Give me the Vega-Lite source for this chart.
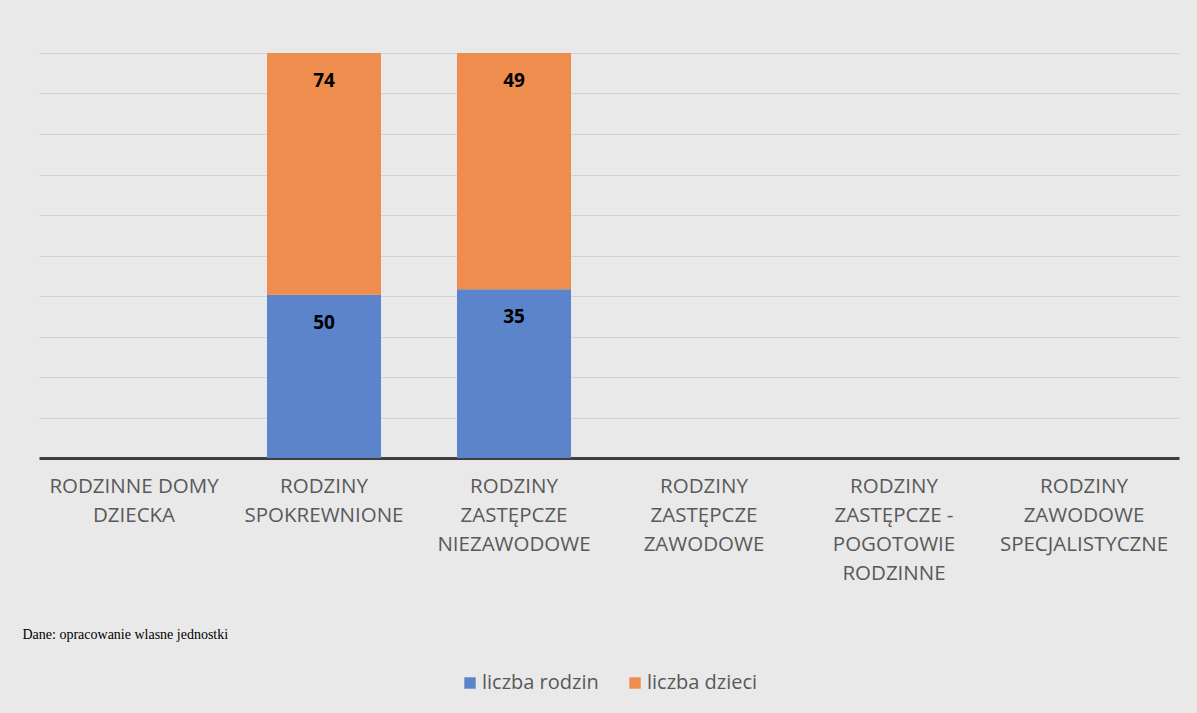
{
  "$schema": "https://vega.github.io/schema/vega-lite/v6.json",
  "width": 1140,
  "height": 405,
  "padding": {"left": 22, "top": 53, "right": 18, "bottom": 22},
  "background": "#e9e9e9",
  "data": {
    "values": [
      {"forma": "RODZINY SPOKREWNIONE", "seria": "liczba rodzin", "wartosc": 50},
      {"forma": "RODZINY SPOKREWNIONE", "seria": "liczba dzieci", "wartosc": 74},
      {"forma": "RODZINY ZASTĘPCZE NIEZAWODOWE", "seria": "liczba rodzin", "wartosc": 35},
      {"forma": "RODZINY ZASTĘPCZE NIEZAWODOWE", "seria": "liczba dzieci", "wartosc": 49}
    ]
  },
  "encoding": {
    "x": {
      "field": "forma",
      "type": "nominal",
      "sort": null,
      "scale": {
        "domain": ["RODZINNE DOMY DZIECKA", "RODZINY SPOKREWNIONE", "RODZINY ZASTĘPCZE NIEZAWODOWE", "RODZINY ZASTĘPCZE ZAWODOWE", "RODZINY ZASTĘPCZE - POGOTOWIE RODZINNE", "RODZINY ZAWODOWE SPECJALISTYCZNE"],
        "paddingInner": 0.4,
        "paddingOuter": 0.2
      },
      "axis": {
        "title": "Dane: opracowanie wlasne jednostki",
        "titleFont": "Liberation Serif",
        "titleFontSize": 14,
        "titleFontWeight": "normal",
        "titleColor": "#000000",
        "titleAnchor": "start",
        "titleAlign": "left",
        "titleBaseline": "middle",
        "titleX": -17,
        "titleY": 176,
        "labelAngle": 0,
        "labelFont": "Open Sans",
        "labelFontSize": 20.5,
        "labelColor": "#595959",
        "labelLineHeight": 29,
        "labelPadding": 18,
        "labelBaseline": "top",
        "labelExpr": "datum.value == 'RODZINNE DOMY DZIECKA' ? ['RODZINNE DOMY', 'DZIECKA'] : datum.value == 'RODZINY SPOKREWNIONE' ? ['RODZINY', 'SPOKREWNIONE'] : datum.value == 'RODZINY ZASTĘPCZE NIEZAWODOWE' ? ['RODZINY', 'ZASTĘPCZE', 'NIEZAWODOWE'] : datum.value == 'RODZINY ZASTĘPCZE ZAWODOWE' ? ['RODZINY', 'ZASTĘPCZE', 'ZAWODOWE'] : datum.value == 'RODZINY ZASTĘPCZE - POGOTOWIE RODZINNE' ? ['RODZINY', 'ZASTĘPCZE -', 'POGOTOWIE', 'RODZINNE'] : ['RODZINY', 'ZAWODOWE', 'SPECJALISTYCZNE']",
        "ticks": false,
        "domainColor": "#3f3f3f",
        "domainWidth": 3,
        "grid": false
      }
    },
    "y": {
      "field": "wartosc",
      "type": "quantitative",
      "aggregate": "sum",
      "stack": "normalize",
      "scale": {"domain": [0, 1]},
      "axis": {
        "title": null,
        "labels": false,
        "ticks": false,
        "domain": false,
        "grid": true,
        "gridColor": "#d2d2d2",
        "gridWidth": 1.2,
        "values": [0.1, 0.2, 0.3, 0.4, 0.5, 0.6, 0.7, 0.8, 0.9, 1.0]
      }
    },
    "order": {"field": "seria", "sort": "descending"}
  },
  "layer": [
    {
      "mark": {"type": "bar"},
      "encoding": {
        "color": {
          "field": "seria",
          "type": "nominal",
          "scale": {"domain": ["liczba rodzin", "liczba dzieci"], "range": ["#5b84cb", "#ee8d4d"]},
          "legend": {
            "title": null,
            "orient": "none",
            "direction": "horizontal",
            "legendX": 421,
            "legendY": 620,
            "padding": 0,
            "symbolType": "square",
            "symbolSize": 130,
            "symbolStrokeWidth": 0,
            "labelFont": "Open Sans",
            "labelFontSize": 20,
            "labelColor": "#595959",
            "labelOffset": 2,
            "columnPadding": 26
          }
        }
      }
    },
    {
      "mark": {"type": "text", "font": "Open Sans", "fontWeight": "bold", "fontSize": 19, "color": "#000000", "baseline": "middle", "dy": 28},
      "encoding": {
        "text": {"field": "wartosc", "type": "quantitative", "aggregate": "sum"}
      }
    }
  ],
  "config": {
    "view": {"stroke": null},
    "axis": {"zindex": 0}
  }
}
